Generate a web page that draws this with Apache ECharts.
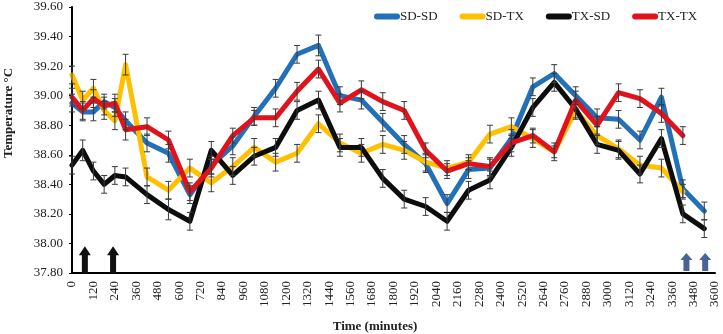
<!DOCTYPE html>
<html>
<head>
<meta charset="utf-8">
<script src="https://cdn.jsdelivr.net/npm/echarts@6/dist/echarts.min.js"></script>
<style>
html,body{margin:0;padding:0;background:#fff;}
#chart{width:723px;height:334px;}
</style>
</head>
<body>
<div id="chart"></div>
<script>
// ---- data ----
const times = [0,60,120,180,240,300,420,540,660,780,900,1020,1140,1260,1380,1500,1620,1740,1860,1980,2100,2220,2340,2460,2580,2700,2820,2940,3060,3180,3300,3420,3540];
const xTicks = [0,120,240,360,480,600,720,840,960,1080,1200,1320,1440,1560,1680,1800,1920,2040,2160,2280,2400,2520,2640,2760,2880,3000,3120,3240,3360,3480,3600];
const seriesNames = ['SD-SD','SD-TX','TX-SD','TX-TX'];
const sdsd = [38.95,38.89,38.89,38.96,38.92,38.83,38.68,38.61,38.33,38.53,38.66,38.86,39.05,39.28,39.34,39.00,38.97,38.82,38.67,38.54,38.27,38.50,38.51,38.71,39.06,39.15,39.00,38.85,38.84,38.70,38.99,38.37,38.22];
const sdtx = [39.14,38.97,39.05,38.90,38.83,39.21,38.45,38.36,38.51,38.41,38.52,38.65,38.55,38.61,38.81,38.68,38.61,38.67,38.63,38.55,38.51,38.55,38.74,38.79,38.71,38.62,38.90,38.73,38.64,38.53,38.51,38.35];
const txsd = [38.53,38.63,38.49,38.40,38.46,38.45,38.33,38.23,38.15,38.63,38.46,38.59,38.65,38.90,38.97,38.65,38.65,38.44,38.30,38.25,38.15,38.36,38.43,38.65,38.92,39.09,38.91,38.67,38.63,38.47,38.71,38.20,38.10];
const txtx = [38.99,38.90,38.98,38.93,38.95,38.77,38.79,38.70,38.35,38.51,38.73,38.85,38.85,39.03,39.18,38.95,39.04,38.96,38.90,38.63,38.49,38.54,38.52,38.68,38.73,38.62,38.97,38.80,39.02,38.98,38.88,38.73];
const errSdsd = [0.06,0.06,0.06,0.05,0.06,0.06,0.06,0.06,0.06,0.06,0.06,0.06,0.06,0.06,0.07,0.06,0.06,0.06,0.06,0.06,0.06,0.06,0.06,0.06,0.06,0.06,0.06,0.06,0.06,0.06,0.06,0.06,0.06];
const errSdtx = [0.06,0.06,0.06,0.06,0.06,0.07,0.06,0.06,0.06,0.06,0.06,0.06,0.06,0.06,0.06,0.06,0.06,0.06,0.06,0.06,0.05,0.05,0.06,0.06,0.06,0.06,0.06,0.06,0.06,0.06,0.06,0.05];
const errTxsd = [0.06,0.07,0.06,0.06,0.06,0.06,0.06,0.07,0.06,0.06,0.06,0.06,0.06,0.06,0.06,0.06,0.06,0.06,0.06,0.06,0.06,0.06,0.06,0.06,0.06,0.06,0.06,0.06,0.06,0.06,0.06,0.06,0.06];
const errTxtx = [0.06,0.06,0.06,0.06,0.06,0.07,0.06,0.06,0.06,0.06,0.05,0.05,0.06,0.06,0.06,0.06,0.06,0.06,0.06,0.05,0.05,0.04,0.06,0.06,0.05,0.04,0.06,0.06,0.06,0.06,0.06,0.06];
const blackArrowTimes = [72,230];
const blueArrowTimes = [3440,3545];
const blackArrowLevel = 37.89;
const blueArrowLevel = 37.875;

// ---- chart ----
const colors = ['#2271B8','#FFC000','#0D0D0D','#E2121C'];
const values = [sdsd,sdtx,txsd,txtx];
const errs = [errSdsd,errSdtx,errTxsd,errTxtx];
const font = 'Liberation Serif';

function errRender(params, api){
  const x = api.value(0), y = api.value(1), e = api.value(2);
  const top = api.coord([x, y + e]);
  const bot = api.coord([x, y - e]);
  const w = 3;
  const st = {stroke:'#3a3a3a', lineWidth:1};
  return {type:'group', children:[
    {type:'line', shape:{x1:top[0],y1:top[1],x2:bot[0],y2:bot[1]}, style:st},
    {type:'line', shape:{x1:top[0]-w,y1:top[1],x2:top[0]+w,y2:top[1]}, style:st},
    {type:'line', shape:{x1:bot[0]-w,y1:bot[1],x2:bot[0]+w,y2:bot[1]}, style:st}
  ]};
}

const series = [];
seriesNames.forEach((n,i)=>{
  series.push({
    name:n, type:'line', symbol:'none', z:2+i,
    data: values[i].map((v,k)=>[times[k], v]),
    lineStyle:{color:colors[i], width:5, cap:'round', join:'round'},
    itemStyle:{color:colors[i]},
    emphasis:{disabled:true}, animation:false
  });
});
seriesNames.forEach((n,i)=>{
  series.push({
    type:'custom', z:10, renderItem:errRender, animation:false, silent:true,
    data: values[i].map((v,k)=>[times[k], v, errs[i][k]])
  });
});
series.push({
  type:'scatter', z:10, silent:true, animation:false,
  symbol:'path://M6,0 L12,9 L9,9 L9,27 L3,27 L3,9 L0,9 Z', symbolSize:[12,27],
  itemStyle:{color:'#111', opacity:1},
  data: blackArrowTimes.map(t=>[t, blackArrowLevel])
});
series.push({
  type:'scatter', z:10, silent:true, animation:false,
  symbol:'path://M6,0 L12,7 L9,7 L9,18 L3,18 L3,7 L0,7 Z', symbolSize:[12,18],
  itemStyle:{color:'#4A6396', opacity:1},
  data: blueArrowTimes.map(t=>[t, blueArrowLevel])
});

const chart = echarts.init(document.getElementById('chart'), null, {renderer:'canvas'});
chart.setOption({
  backgroundColor:'#fff',
  animation:false,
  grid:{left:72, right:8, top:7, bottom:61, containLabel:false, outerBoundsMode:'none'},
  legend:{
    data: seriesNames, top:5, left:369, itemWidth:26, itemHeight:6, itemGap:22,
    icon:'path://M3,0 L23,0 A3,3 0 0 1 23,6 L3,6 A3,3 0 0 1 3,0 Z',
    textStyle:{fontFamily:font, fontSize:13, color:'#222', padding:[0,0,0,-5]}
  },
  xAxis:{
    type:'value', min:0, max:3600, interval:120,
    name:'Time (minutes)', nameLocation:'middle', nameGap:47,
    nameTextStyle:{fontFamily:font, fontSize:13, fontWeight:'bold', color:'#222', padding:[0,37,0,0]},
    axisLine:{onZero:false, lineStyle:{color:'#000', width:2}},
    axisTick:{show:false},
    splitLine:{show:false},
    axisLabel:{rotate:90, fontFamily:font, fontSize:13, color:'#222', margin:8,
      formatter:v=> xTicks.includes(v) ? String(v) : ''}
  },
  yAxis:{
    type:'value', min:37.8, max:39.6, interval:0.2,
    name:'Temperature °C', nameLocation:'middle', nameGap:57,
    nameTextStyle:{fontFamily:font, fontSize:13, fontWeight:'bold', color:'#222', padding:[0,0,0,54]},
    axisLine:{show:true, lineStyle:{color:'#000', width:2}},
    axisTick:{show:true, length:3, lineStyle:{color:'#000'}},
    splitLine:{show:false},
    axisLabel:{fontFamily:font, fontSize:13, color:'#222', margin:9, formatter:v=>v.toFixed(2)}
  },
  series: series
});
</script>
</body>
</html>
